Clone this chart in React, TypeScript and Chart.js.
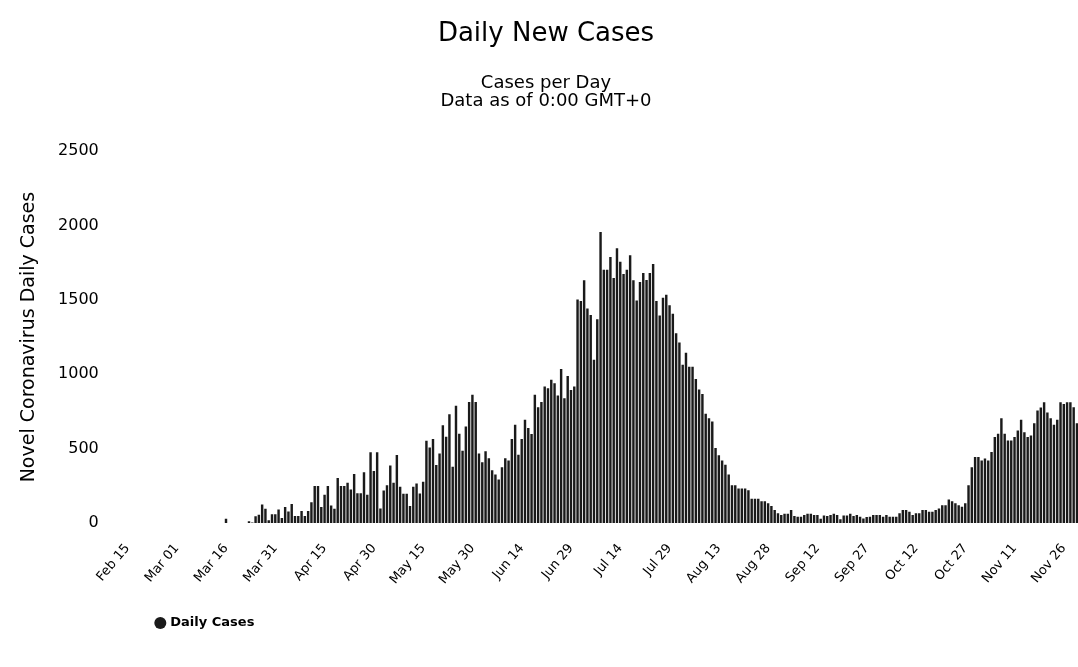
import React, { useEffect, useRef } from 'react';
import { Chart, registerables } from 'chart.js';

Chart.register(...registerables);

const FONT = '"DejaVu Sans", "Liberation Sans", sans-serif';

const MONTHS = ['Jan', 'Feb', 'Mar', 'Apr', 'May', 'Jun', 'Jul', 'Aug', 'Sep', 'Oct', 'Nov', 'Dec'];
const DAYS_IN_MONTH = [31, 29, 31, 30, 31, 30, 31, 31, 30, 31, 30, 31];

// Daily categories: Feb 15 .. Nov 30 (2020)
const START_MONTH = 1; // Feb
const START_DAY = 15;
const DAY_COUNT = 290;

const buildDates = (): string[] => {
  const out: string[] = [];
  let m = START_MONTH;
  let d = START_DAY;
  for (let i = 0; i < DAY_COUNT; i++) {
    out.push(`${MONTHS[m]} ${String(d).padStart(2, '0')}`);
    d++;
    if (d > DAYS_IN_MONTH[m]) {
      d = 1;
      m++;
    }
  }
  return out;
};
const DATES = buildDates();

const TICK_LABELS = [
  'Feb 15', 'Mar 01', 'Mar 16', 'Mar 31', 'Apr 15', 'Apr 30', 'May 15', 'May 30',
  'Jun 14', 'Jun 29', 'Jul 14', 'Jul 29', 'Aug 13', 'Aug 28', 'Sep 12', 'Sep 27',
  'Oct 12', 'Oct 27', 'Nov 11', 'Nov 26',
];

const Y_TICKS = [0, 500, 1000, 1500, 2000, 2500];

const DAILY_CASES = [
  0, 0, 0, 0, 0, 0, 0, 0, 0, 0,
  0, 0, 0, 0, 0, 0, 0, 0, 0, 0,
  0, 0, 0, 0, 0, 0, 0, 0, 0, 0,
  29, 0, 0, 0, 0, 0, 0, 11, 4, 45,
  55, 125, 96, 18, 58, 58, 91, 33, 107, 78,
  127, 47, 47, 80, 47, 80, 140, 248, 248, 107,
  190, 248, 118, 96, 303, 248, 248, 270, 225, 330,
  200, 200, 341, 190, 475, 350, 475, 98, 219, 254,
  386, 270, 457, 243, 196, 196, 114, 243, 265, 198,
  277, 553, 508, 564, 390, 468, 658, 580, 731, 379,
  789, 600, 486, 649, 814, 863, 814, 468, 408, 482,
  435, 355, 326, 292, 375, 435, 421, 564, 660, 459,
  564, 694, 638, 598, 863, 778, 814, 917, 906, 964,
  940, 857, 1035, 839, 989, 895, 917, 1503, 1492, 1632,
  1443, 1398, 1098, 1370, 1957, 1703, 1703, 1788, 1648, 1848,
  1757, 1675, 1703, 1801, 1632, 1496, 1621, 1681, 1634, 1681,
  1741, 1492, 1396, 1514, 1534, 1465, 1407, 1276, 1213, 1064,
  1144, 1051, 1051, 969, 897, 867, 734, 705, 682, 504,
  455, 421, 392, 326, 254, 254, 232, 232, 232, 221,
  163, 163, 163, 147, 147, 132, 114, 87, 65, 54,
  62, 62, 87, 47, 42, 42, 54, 62, 62, 54,
  54, 29, 51, 47, 54, 62, 54, 25, 51, 51,
  62, 47, 54, 42, 31, 40, 42, 54, 54, 54,
  42, 54, 42, 42, 42, 65, 87, 87, 76, 54,
  65, 65, 87, 87, 76, 76, 87, 98, 120, 120,
  158, 147, 132, 120, 109, 132, 254, 375, 444, 444,
  421, 433, 421, 477, 578, 600, 705, 600, 555, 555,
  578, 622, 694, 611, 578, 589, 671, 756, 776, 812,
  743, 705, 660, 694, 812, 801, 812, 812, 778, 671,
];

export default function App() {
  const canvasRef = useRef<HTMLCanvasElement | null>(null);

  useEffect(() => {
    if (!canvasRef.current) return;
    const tickSet = new Set(TICK_LABELS);
    const chart = new Chart(canvasRef.current, {
      type: 'bar',
      data: {
        labels: DATES,
        datasets: [
          {
            label: 'Daily Cases',
            data: DAILY_CASES,
            backgroundColor: '#1a1a1a',
            borderWidth: 0,
            barPercentage: 0.74,
            categoryPercentage: 1.0,
          },
        ],
      },
      options: {
        animation: false,
        responsive: true,
        maintainAspectRatio: false,
        layout: { padding: { left: 0, right: 0, top: 0, bottom: 27.5 } },
        plugins: {
          title: {
            display: true,
            text: 'Daily New Cases',
            color: '#000',
            font: { family: FONT, size: 26, weight: 'normal' },
            padding: { top: 19, bottom: 20 },
          },
          subtitle: {
            display: true,
            text: ['Cases per Day', 'Data as of 0:00 GMT+0'],
            color: '#000',
            font: { family: FONT, size: 18, lineHeight: 1 },
            padding: { top: 4, bottom: 41 },
          },
          legend: {
            display: true,
            position: 'bottom',
            align: 'start',
            fullSize: false,
            labels: {
              usePointStyle: true,
              pointStyle: 'circle',
              boxWidth: 7,
              boxHeight: 8.5,
              padding: 31,
              color: '#000',
              font: { family: FONT, size: 13, weight: 'bold' },
            },
          },
          tooltip: { enabled: false },
        },
        scales: {
          x: {
            grid: { display: false, drawTicks: false },
            border: { display: false },
            afterFit: (axis: any) => {
              axis.height = 62.5;
              axis.paddingLeft = 0;
              axis.paddingRight = 13.4;
            },
            ticks: {
              autoSkip: false,
              minRotation: 50,
              maxRotation: 50,
              padding: 18,
              color: '#000',
              font: { family: FONT, size: 13 },
              callback: (_v: any, i: number) => (tickSet.has(DATES[i]) ? DATES[i] : ''),
            },
          },
          y: {
            min: Y_TICKS[0],
            max: Y_TICKS[Y_TICKS.length - 1],
            grid: { display: false, drawTicks: false },
            border: { display: false },
            afterBuildTicks: (axis: any) => {
              axis.ticks = Y_TICKS.map((v) => ({ value: v }));
            },
            afterFit: (axis: any) => {
              axis.width = 125.8;
            },
            ticks: {
              color: '#000',
              padding: 27,
              font: { family: FONT, size: 16 },
              callback: (v: any) => String(v),
            },
            title: {
              display: true,
              text: 'Novel Coronavirus Daily Cases',
              color: '#000',
              font: { family: FONT, size: 19 },
              padding: { top: 17.5, bottom: 0 },
            },
          },
        },
      },
    });
    return () => chart.destroy();
  }, []);

  return (
    <div
      style={{
        position: 'absolute',
        left: 0,
        top: 0,
        width: 1078,
        height: 667,
        overflow: 'hidden',
        background: '#fff',
      }}
    >
      <div style={{ position: 'relative', width: 1092, height: 667 }}>
        <canvas ref={canvasRef} />
      </div>
    </div>
  );
}
